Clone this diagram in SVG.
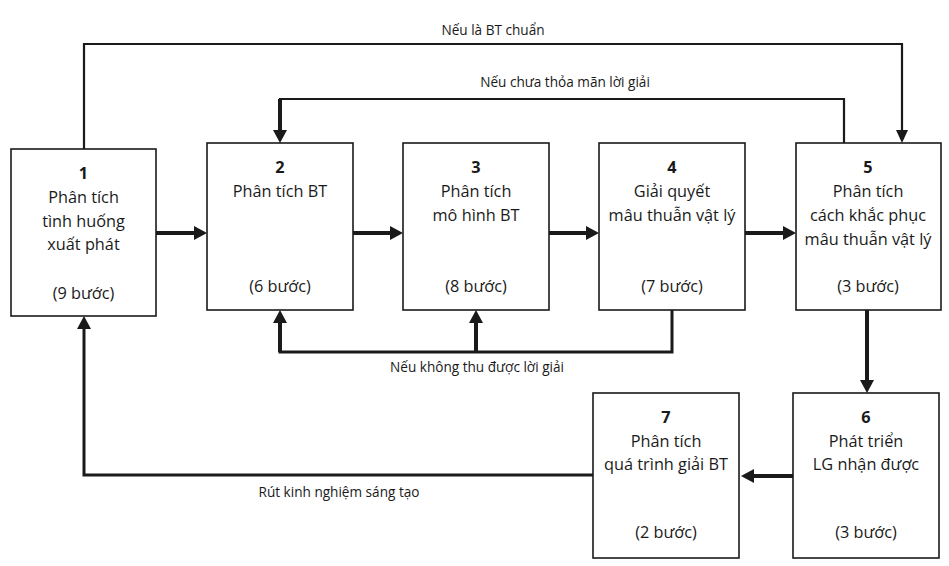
<svg xmlns="http://www.w3.org/2000/svg" width="949" height="566" viewBox="0 0 949 566">
<defs>
<style>
.box{fill:#fff;stroke:#1a1a1a;stroke-width:1.6}
.t{font-family:"Open Sans","Noto Sans","DejaVu Sans",sans-serif;font-size:16.3px;fill:#1a1a1a;text-anchor:middle}
.n{font-weight:bold}
.lbl{font-family:"Open Sans","Noto Sans","DejaVu Sans",sans-serif;font-size:13.6px;fill:#1a1a1a;text-anchor:middle}
.thin{fill:none;stroke:#1a1a1a;stroke-width:2.2}
.thick{fill:none;stroke:#1a1a1a;stroke-width:4}
.mid{fill:none;stroke:#1a1a1a;stroke-width:3}
</style>
</defs>
<rect width="949" height="566" fill="#fff"/>
<g id="connectors">
<path class="thin" d="M84,149 V44 H902 V131" />
<path d="M896,130 L908,130 L902,143 z" fill="#1a1a1a"/>
<path class="thin" d="M844,143 V99 H280 V131"/>
<path class="thick" d="M280,99 V131"/>
<path d="M273,130 L287,130 L280,143 z" fill="#1a1a1a"/>
<path class="thick" d="M156,233 H195"/>
<path d="M194,226 L207,233 L194,240 z" fill="#1a1a1a"/>
<path class="thick" d="M353,233 H391"/>
<path d="M390,226 L403,233 L390,240 z" fill="#1a1a1a"/>
<path class="thick" d="M549,233 H587"/>
<path d="M586,226 L599,233 L586,240 z" fill="#1a1a1a"/>
<path class="thick" d="M745,233 H784"/>
<path d="M783,226 L796,233 L783,240 z" fill="#1a1a1a"/>
<path class="mid" d="M672,310 V352 H280 V322"/>
<path class="thick" d="M280,352 V322"/>
<path d="M273,323 L287,323 L280,310 z" fill="#1a1a1a"/>
<path class="thick" d="M476,352 V322"/>
<path d="M469,323 L483,323 L476,310 z" fill="#1a1a1a"/>
<path class="thick" d="M867,310 V381"/>
<path d="M860,380 L874,380 L867,393 z" fill="#1a1a1a"/>
<path class="thick" d="M793,476 H753"/>
<path d="M754,469 L754,483 L741,476 z" fill="#1a1a1a"/>
<path class="mid" d="M593,475 H84 V328"/>
<path d="M77,329 L91,329 L84,316 z" fill="#1a1a1a"/>
<text class="lbl" x="493" y="35">Nếu là BT chuẩn</text>
<text class="lbl" x="565" y="87">Nếu chưa thỏa mãn lời giải</text>
<text class="lbl" x="477" y="372">Nếu không thu được lời giải</text>
<text class="lbl" x="339" y="497">Rút kinh nghiệm sáng tạo</text>
</g>
<g id="n1">
<rect class="box" x="11" y="149" width="145" height="167"/>
<text class="t n" x="83.5" y="179">1</text>
<text class="t" x="83.5" y="203">Phân tích</text>
<text class="t" x="83.5" y="227">tình huống</text>
<text class="t" x="83.5" y="250">xuất phát</text>
<text class="t" x="83.5" y="299">(9 bước)</text>
</g>
<g id="n2">
<rect class="box" x="207" y="143" width="146" height="167"/>
<text class="t n" x="280" y="173">2</text>
<text class="t" x="280" y="197">Phân tích BT</text>
<text class="t" x="280" y="292">(6 bước)</text>
</g>
<g id="n3">
<rect class="box" x="403" y="143" width="146" height="167"/>
<text class="t n" x="476" y="173">3</text>
<text class="t" x="476" y="197">Phân tích</text>
<text class="t" x="476" y="221">mô hình BT</text>
<text class="t" x="476" y="292">(8 bước)</text>
</g>
<g id="n4">
<rect class="box" x="599" y="143" width="146" height="167"/>
<text class="t n" x="672" y="173">4</text>
<text class="t" x="672" y="197">Giải quyết</text>
<text class="t" x="672" y="221">mâu thuẫn vật lý</text>
<text class="t" x="672" y="292">(7 bước)</text>
</g>
<g id="n5">
<rect class="box" x="796" y="143" width="145" height="167"/>
<text class="t n" x="868" y="173">5</text>
<text class="t" x="868" y="197">Phân tích</text>
<text class="t" x="868" y="221">cách khắc phục</text>
<text class="t" x="868" y="245">mâu thuẫn vật lý</text>
<text class="t" x="868" y="292">(3 bước)</text>
</g>
<g id="n6">
<rect class="box" x="793" y="393" width="146" height="165"/>
<text class="t n" x="866" y="423">6</text>
<text class="t" x="866" y="447">Phát triển</text>
<text class="t" x="866" y="470">LG nhận được</text>
<text class="t" x="866" y="538">(3 bước)</text>
</g>
<g id="n7">
<rect class="box" x="593" y="393" width="146" height="165"/>
<text class="t n" x="666" y="423">7</text>
<text class="t" x="666" y="447">Phân tích</text>
<text class="t" x="666" y="470">quá trình giải BT</text>
<text class="t" x="666" y="538">(2 bước)</text>
</g>
</svg>
